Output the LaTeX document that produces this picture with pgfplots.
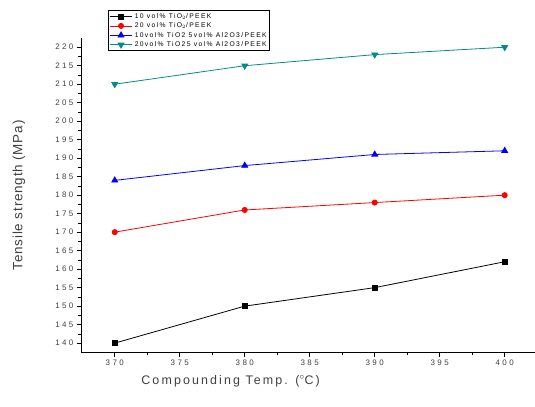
\documentclass[border=0pt]{standalone}
\usepackage{fontspec}
\setmainfont{Liberation Sans}
\newfontfamily\tickfont[LetterSpace=30]{Liberation Sans}
\newfontfamily\xlabfont[LetterSpace=17]{Liberation Sans}
\newfontfamily\ylabfont[LetterSpace=6]{Liberation Sans}
\newfontfamily\legfont[LetterSpace=20]{Liberation Sans}
\usepackage{pgfplots}
\pgfplotsset{compat=1.18}
\definecolor{tealc}{RGB}{0,140,135}
\begin{document}
\begin{tikzpicture}
\begin{axis}[
  scale only axis,
  width=454bp, height=315bp,
  xmin=367.4, xmax=402.3,
  ymin=137.4, ymax=222.5,
  axis x line*=bottom, axis y line*=left,
  axis line style={line width=0.8pt, -},
  xtick={370,375,...,400},
  ytick={140,145,...,220},
  minor x tick num=1, minor y tick num=1,
  tick align=outside,
  major tick length=4bp, minor tick length=2.5bp,
  tick style={line width=0.7pt, black},
  tick label style={font=\tickfont\fontsize{8}{9}\selectfont, text=black!75},
  /pgf/number format/assume math mode=true,
  xlabel={Compounding Temp. ($^{\circ}$C)},
  ylabel={Tensile strength (MPa)},
  every axis x label/.style={at={(axis description cs:0.33,-0.09)}, anchor=center,
     font=\xlabfont\fontsize{12.5}{14}\selectfont, text=black!75},
  every axis y label/.style={at={(axis description cs:-0.1366,0.5)}, anchor=center, rotate=90,
     font=\ylabfont\fontsize{13.5}{15}\selectfont, text=black!75},
  clip=false,
  legend style={at={(0.0595,1.089)}, anchor=north west, font=\legfont\fontsize{6.8}{7.5}\selectfont,
    draw=black, line width=0.8pt, inner sep=1pt, row sep=-1pt, fill=white},
  legend cell align=left,
  legend image code/.code={\draw[mark repeat=2,mark phase=2] plot coordinates {(0cm,0cm) (0.4cm,0cm) (0.8cm,0cm)};},
  every axis plot/.append style={line width=0.8pt},
]
\addplot[black, mark=square*, mark size=2.4pt, mark options={solid}] coordinates {(370,140) (380,150) (390,155) (400,162)};
\addlegendentry{10 vol\% TiO$_2$/PEEK}
\addplot[red, mark=*, mark size=2.6pt] coordinates {(370,170) (380,176) (390,178) (400,180)};
\addlegendentry{20 vol\% TiO$_2$/PEEK}
\addplot[blue, mark=triangle*, mark size=3.4pt] coordinates {(370,184) (380,188) (390,191) (400,192)};
\addlegendentry{10vol\% TiO2 5vol\% Al2O3/PEEK}
\addplot[tealc, mark=triangle*, mark size=3.4pt, mark options={rotate=180}] coordinates {(370,210) (380,215) (390,218) (400,220)};
\addlegendentry{20vol\% TiO25 vol\% Al2O3/PEEK}
\end{axis}
\useasboundingbox (current axis.south west) ++(-81bp,-54bp) rectangle ++(535bp,407bp);
\end{tikzpicture}
\end{document}
